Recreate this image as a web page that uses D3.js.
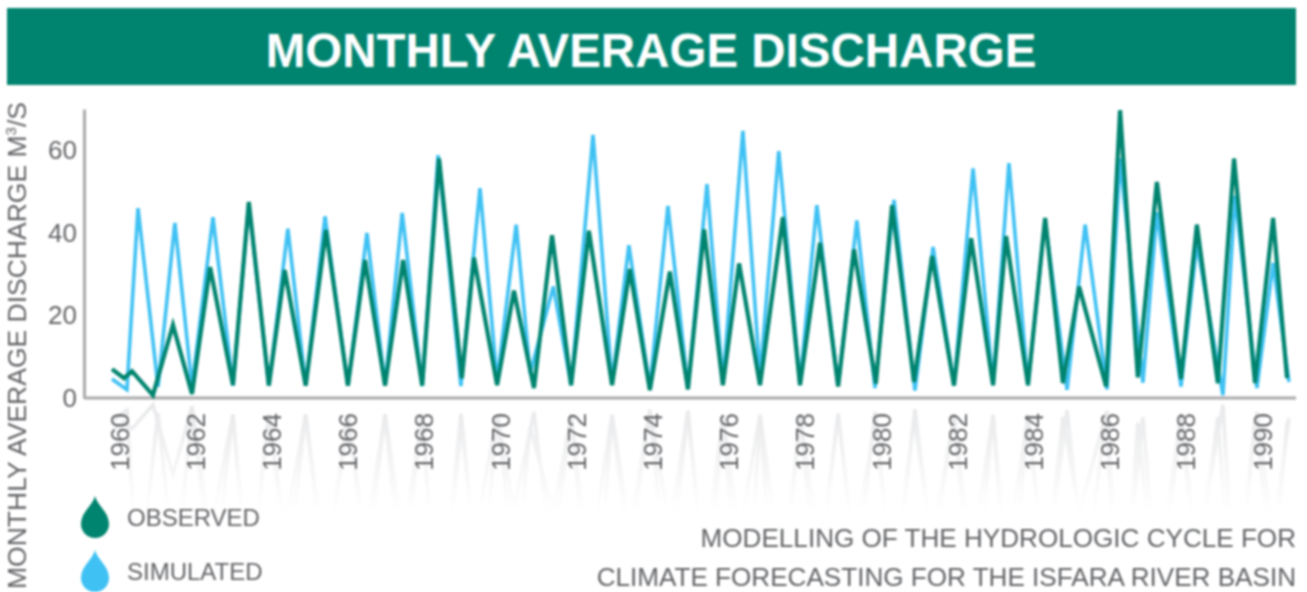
<!DOCTYPE html>
<html>
<head>
  <meta charset="utf-8">
  <script src="https://d3js.org/d3.v7.min.js"></script>
  <style>
    html, body { margin: 0; padding: 0; background: #fff; overflow: hidden; }
    svg { display: block; filter: blur(1px); font-family: "Liberation Sans", Arial, sans-serif; }
    .axis path { stroke: #a9a9ab; stroke-width: 3px; }
    .axis text { fill: #636467; }
    .note { fill: #636467; }
    .line { fill: none; }
  </style>
</head>
<body>
  <svg id="chart" width="1307" height="592"></svg>
  <script>
    // months counted from Jan 1960
    var obsMonths = [0,3.8,6.3,12.9,19.2,25.2,30.9,38.1,43.1,49.4,54.4,61,67.4,74.3,79.7,86,91.7,97.7,103,110.2,114,121.3,126.6,132.9,138.6,144.6,150.2,157.5,163.1,169.4,175.7,181.4,186.5,192.4,197.5,204.1,211.3,216.7,223,228.7,233.7,240.6,245.7,252.6,258.3,265.2,270.6,277.5,281.6,288.5,293.9,299.5,304.6,313.1,317.5,323.1,329.1,336.7,341.7,348.3,353.4,360,365.7,370.1];
    var obsValues = [7,4.8,6.5,0.7,17.7,1,31.7,3.1,47.5,3,31,3,40.7,3,33.4,3,33.4,3,58,4.8,34,3.1,26,2.4,39.4,3.1,40.5,3.1,31.2,1.9,30.6,2.1,40.8,3.1,32.6,3.1,43.8,3.1,37.6,2.8,36,3.5,46.7,3.9,34.4,3,38.7,3.1,39.2,3.1,43.6,3.6,27,2.8,69.7,5,52.3,4.6,42,3.6,58,3.6,43.6,4.8];
    var simMonths = [0,4.7,8.2,14.5,19.8,25.2,31.8,38.1,43.1,49.4,55.4,61,67.1,74.3,80.3,86,91.4,97.7,102.7,109.9,115.9,121.3,127.3,131.7,139,144.6,151.5,157.5,162.8,169.4,175.1,181.4,187.4,192.4,198.7,204.1,210,216.7,222,228.7,234.6,240.3,246.3,252.9,258.6,265.2,271.2,277.5,282.5,288.5,293.9,300.8,306.5,313.4,317.5,324.7,329.1,336.7,341.7,349.9,353.7,360.6,365.7,370.7];
    var simValues = [4.6,2,46,2.7,42.4,2.7,43.8,3,47,3,41,3,44,3,40,3,44.8,2.9,58.8,2.9,50.8,4,42,6,27,3.1,63.7,3.5,37,2.5,46.5,2.5,51.8,3.5,64.7,5,59.8,3.5,46.7,3,43,2.4,48,1.8,36.6,3,55.6,3.1,56.9,3.1,43,2,42,2.1,58,3.7,45,2.8,37.5,0.7,49,2.4,32.7,3.9];
    var yearTicks = [1960,1962,1964,1966,1968,1970,1972,1974,1976,1978,1980,1982,1984,1986,1988,1990];
    var valueTicks = [0,20,40,60];
    var legendLabels = ["OBSERVED","SIMULATED"];
    var noteLines = ["MODELLING OF THE HYDROLOGIC CYCLE FOR","CLIMATE FORECASTING FOR THE ISFARA RIVER BASIN"];

    var green = "#00846f", blue = "#3fc1f3";

    var svg = d3.select("#chart");

    var x = d3.scaleLinear().domain([0, 12]).range([112, 150.1]);
    var y = d3.scaleLinear().domain([0, 70]).range([398, 109]);
    // same scale flipped under the axis, for the faded reflection
    var yMirror = d3.scaleLinear().domain([0, 70]).range([402, 691]);

    var obs = d3.zip(obsMonths, obsValues);
    var sim = d3.zip(simMonths, simValues);

    // title band
    svg.append("rect")
      .attr("x", 7).attr("y", 8)
      .attr("width", 1289).attr("height", 77)
      .attr("fill", green);

    svg.append("text")
      .attr("x", 651).attr("y", 67)
      .attr("text-anchor", "middle")
      .attr("font-size", 47.5)
      .attr("font-weight", "bold")
      .attr("fill", "#fff")
      .text("MONTHLY AVERAGE DISCHARGE");

    // reflection
    var defs = svg.append("defs");
    var grad = defs.append("linearGradient")
      .attr("id", "fade")
      .attr("gradientUnits", "userSpaceOnUse")
      .attr("x1", 0).attr("x2", 0).attr("y1", 400).attr("y2", 512);
    grad.append("stop").attr("offset", 0).attr("stop-color", "#fff").attr("stop-opacity", 0.9);
    grad.append("stop").attr("offset", 1).attr("stop-color", "#fff").attr("stop-opacity", 0);
    defs.append("mask")
      .attr("id", "fadeMask")
      .attr("maskUnits", "userSpaceOnUse")
      .attr("x", 0).attr("y", 398).attr("width", 1307).attr("height", 194)
      .append("rect")
      .attr("x", 0).attr("y", 398).attr("width", 1307).attr("height", 194)
      .attr("fill", "url(#fade)");

    var mirrorLine = d3.line().x(d => x(d[0])).y(d => yMirror(d[1]));
    var ghost = svg.append("g").attr("mask", "url(#fadeMask)");
    [sim, obs].forEach(s => {
      ghost.append("path")
        .attr("class", "line")
        .attr("d", mirrorLine(s))
        .attr("stroke", "#e3e4e6")
        .attr("stroke-width", 3.5);
    });

    // axes
    var yAxis = svg.append("g")
      .attr("class", "axis")
      .attr("transform", "translate(84,0)")
      .call(d3.axisLeft(y).tickValues(valueTicks).tickSize(0).tickPadding(7));
    yAxis.selectAll("text").attr("font-size", 26);

    var xAxis = svg.append("g")
      .attr("class", "axis")
      .attr("transform", "translate(0,398)")
      .call(d3.axisBottom(x)
        .tickValues(yearTicks.map(t => (t - 1960) * 12))
        .tickFormat(m => 1960 + m / 12)
        .tickSize(0));
    xAxis.select(".domain").attr("d", "M84,0H1296");
    xAxis.selectAll("text")
      .attr("font-size", 26)
      .attr("text-anchor", "end")
      .attr("dy", null)
      .attr("y", null)
      .attr("transform", "translate(16,15) rotate(-90)");

    // series
    var line = d3.line().x(d => x(d[0])).y(d => y(d[1]));
    svg.append("path").attr("class", "line").attr("d", line(sim))
      .attr("stroke", blue).attr("stroke-width", 3.6);
    svg.append("path").attr("class", "line").attr("d", line(obs))
      .attr("stroke", green).attr("stroke-width", 4.2);

    // y title
    svg.append("text")
      .attr("class", "note")
      .attr("transform", "translate(26,589) rotate(-90)")
      .attr("font-size", 26.5)
      .html('MONTHLY AVERAGE DISCHARGE M<tspan font-size="15" dy="-10">3</tspan><tspan dy="10">/S</tspan>');

    // legend
    var drop = "M0,-22C2,-13 14,-6 14,6A14,14 0 0 1 -14,6C-14,-6 -2,-13 0,-22Z";
    var legend = svg.selectAll(".legend")
      .data(legendLabels)
      .join("g")
      .attr("class", "legend")
      .attr("transform", (d, i) => "translate(95," + (i ? 572 : 518) + ")");
    legend.append("path")
      .attr("d", drop)
      .attr("fill", (d, i) => i ? blue : green);
    legend.append("text")
      .attr("class", "note")
      .attr("x", 32).attr("y", 8)
      .attr("font-size", 24)
      .text(d => d);

    // source note
    svg.selectAll(".source")
      .data(noteLines)
      .join("text")
      .attr("class", "note source")
      .attr("x", 1296)
      .attr("y", (d, i) => 547 + i * 39)
      .attr("text-anchor", "end")
      .attr("font-size", 26.1)
      .text(d => d);
  </script>
</body>
</html>
